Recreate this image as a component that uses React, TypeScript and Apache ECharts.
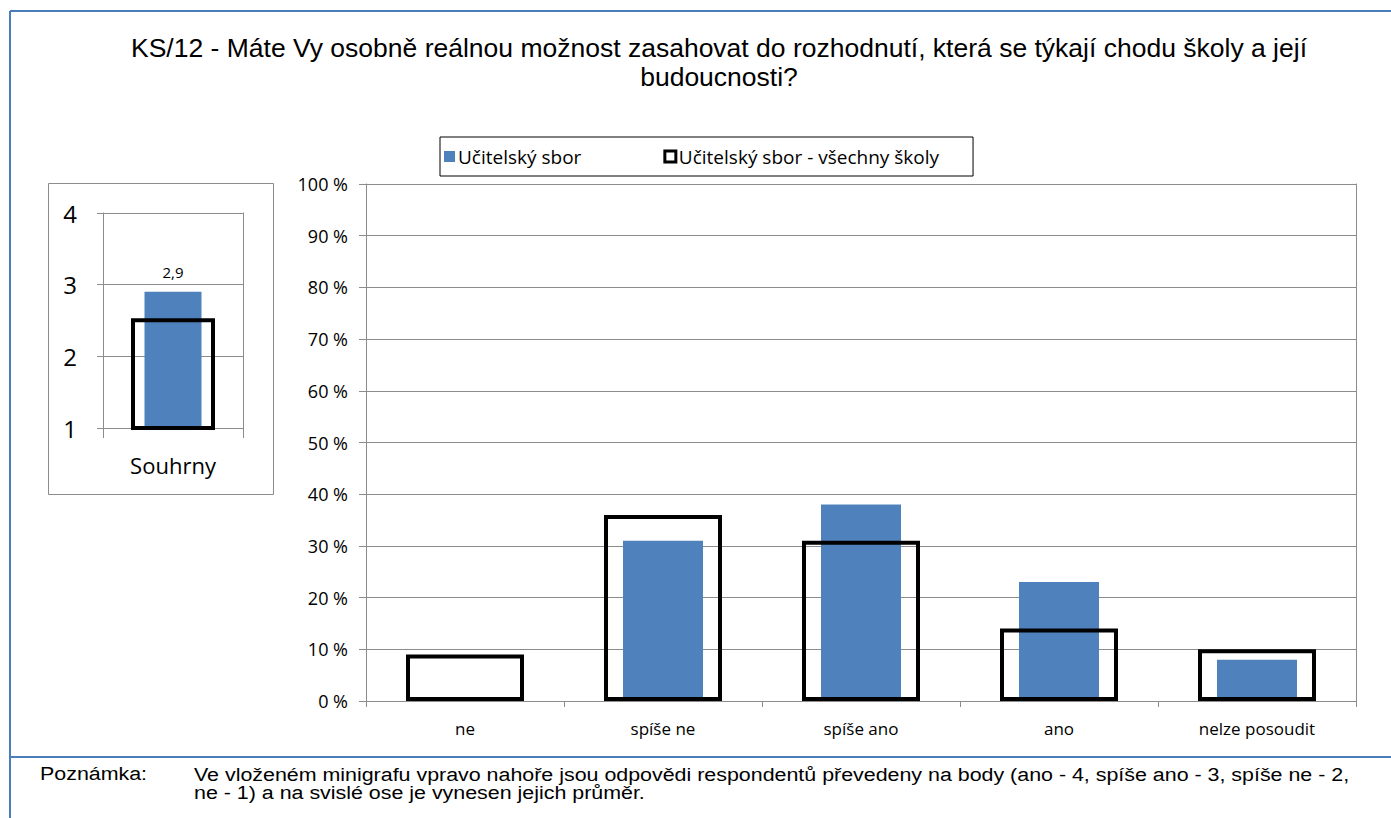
import React, { useEffect, useRef } from "react";
import * as echarts from "echarts";

const categories = ["ne", "spíše ne", "spíše ano", "ano", "nelze posoudit"];
const schoolValues = [0, 31, 38, 23, 8];
const allSchoolsValues = [9, 36, 31, 14, 10];
const summaryCategory = ["Souhrny"];
const summarySchool = [2.9];
const summaryAll = [2.53];
const seriesNames = ["Učitelský sbor", "Učitelský sbor - všechny školy"];
const titleLines = [
  "KS/12 - Máte Vy osobně reálnou možnost zasahovat do rozhodnutí, která se týkají chodu školy a její",
  "budoucnosti?",
];
const noteLabel = "Poznámka:";
const noteLines = [
  "Ve vloženém minigrafu vpravo nahoře jsou odpovědi respondentů převedeny na body (ano - 4, spíše ano - 3, spíše ne - 2,",
  "ne - 1) a na svislé ose je vynesen jejich průměr.",
];

const BLUE = "#4f81bd";
const GREY = "#8c8c8c";
const FRAME = "#4a7ebb";
const CAL = "'Open Sans', 'Noto Sans', sans-serif";
const ARIAL = "'Liberation Sans', Arial, sans-serif";

export default function App() {
  const ref = useRef<HTMLDivElement>(null);
  useEffect(() => {
    if (!ref.current) return;
    const chart = echarts.init(ref.current, null, { renderer: "svg" });
    const axisLine = { show: true, lineStyle: { color: GREY, width: 1 } };
    const option: any = {
      animation: false,
      backgroundColor: "#fff",
      legend: {
        left: 440,
        top: 137,
        padding: [10, 34, 10, 4],
        itemGap: 82,
        itemWidth: 11,
        itemHeight: 11,
        icon: "rect",
        borderColor: "#000",
        borderWidth: 1,
        textStyle: { fontFamily: CAL, fontSize: 19, color: "#000", padding: [0, 0, 0, -2] },
        data: [
          { name: seriesNames[0], itemStyle: { color: BLUE } },
          { name: seriesNames[1], itemStyle: { color: "#fff", borderColor: "#000", borderWidth: 3 } },
        ],
      },
      grid: [
        { left: 103, top: 213, width: 140, height: 215 },
        { left: 366, top: 184, width: 990, height: 517 },
      ],
      xAxis: [
        {
          gridIndex: 0,
          type: "category",
          data: summaryCategory,
          axisLine,
          axisTick: { show: true, length: 10, lineStyle: { color: GREY } },
          axisLabel: { fontFamily: CAL, fontSize: 22, color: "#000", margin: 26 },
        },
        { gridIndex: 0, type: "category", data: summaryCategory, show: false },
        {
          gridIndex: 1,
          type: "category",
          data: categories,
          axisLine,
          axisTick: { show: true, length: 6, lineStyle: { color: GREY } },
          axisLabel: { fontFamily: CAL, fontSize: 17, color: "#000", margin: 19 },
        },
        { gridIndex: 1, type: "category", data: categories, show: false },
      ],
      yAxis: [
        {
          gridIndex: 0,
          type: "value",
          min: 1,
          max: 4,
          interval: 1,
          axisLine,
          axisTick: { show: true, length: 6, lineStyle: { color: GREY } },
          axisLabel: { fontFamily: CAL, fontSize: 24, color: "#000", margin: 26 },
          splitLine: { show: true, lineStyle: { color: GREY } },
        },
        {
          gridIndex: 0,
          type: "value",
          position: "right",
          min: 1,
          max: 4,
          interval: 1,
          axisLine,
          axisTick: { show: false },
          axisLabel: { show: false },
          splitLine: { show: false },
        },
        {
          gridIndex: 1,
          type: "value",
          min: 0,
          max: 100,
          interval: 10,
          axisLine,
          axisTick: { show: true, length: 7, lineStyle: { color: GREY } },
          axisLabel: { fontFamily: CAL, fontSize: 18, color: "#000", margin: 18, formatter: "{value} %" },
          splitLine: { show: true, lineStyle: { color: GREY } },
        },
        {
          gridIndex: 1,
          type: "value",
          position: "right",
          min: 0,
          max: 100,
          interval: 10,
          axisLine,
          axisTick: { show: false },
          axisLabel: { show: false },
          splitLine: { show: false },
        },
      ],
      series: [
        {
          type: "bar",
          name: seriesNames[0],
          xAxisIndex: 0,
          yAxisIndex: 0,
          data: summarySchool,
          barWidth: 57,
          itemStyle: { color: BLUE },
          label: {
            show: true,
            position: "top",
            distance: 12,
            fontFamily: CAL,
            fontSize: 15,
            color: "#000",
            formatter: (p: any) => String(p.value).replace(".", ","),
          },
        },
        {
          type: "bar",
          name: seriesNames[1],
          xAxisIndex: 1,
          yAxisIndex: 0,
          data: summaryAll,
          barWidth: 84,
          itemStyle: { color: "rgba(0,0,0,0)", borderColor: "#000", borderWidth: 4 },
        },
        {
          type: "bar",
          name: seriesNames[0],
          xAxisIndex: 2,
          yAxisIndex: 2,
          data: schoolValues,
          barWidth: 80,
          itemStyle: { color: BLUE },
        },
        {
          type: "bar",
          name: seriesNames[1],
          xAxisIndex: 3,
          yAxisIndex: 2,
          data: allSchoolsValues,
          barWidth: 118,
          itemStyle: { color: "rgba(0,0,0,0)", borderColor: "#000", borderWidth: 4 },
        },
      ],
      graphic: [
        { type: "line", shape: { x1: 10, y1: 11, x2: 1391, y2: 11 }, style: { stroke: FRAME, lineWidth: 2 } },
        { type: "line", shape: { x1: 10, y1: 11, x2: 10, y2: 818 }, style: { stroke: FRAME, lineWidth: 2 } },
        { type: "line", shape: { x1: 10, y1: 757, x2: 1391, y2: 757 }, style: { stroke: FRAME, lineWidth: 2 } },
        { type: "rect", shape: { x: 48.5, y: 183.5, width: 225, height: 311 }, style: { fill: "none", stroke: GREY, lineWidth: 1 }, z: -1 },
        {
          type: "text",
          x: 719,
          y: 33,
          style: {
            text: titleLines.join("\n"),
            textAlign: "center",
            textVerticalAlign: "top",
            fontFamily: ARIAL,
            fontSize: 26.5,
            lineHeight: 29,
            fill: "#000",
          },
        },
        {
          type: "text",
          x: 40,
          y: 765,
          scaleX: 1.19,
          style: { text: noteLabel, fontFamily: ARIAL, fontSize: 18, fill: "#000", textVerticalAlign: "top" },
        },
        {
          type: "text",
          x: 194,
          y: 765,
          scaleX: 1.19,
          style: { text: noteLines.join("\n"), fontFamily: ARIAL, fontSize: 18, lineHeight: 18.5, fill: "#000", textVerticalAlign: "top" },
        },
      ],
    };
    chart.setOption(option);
    return () => chart.dispose();
  }, []);
  return <div ref={ref} style={{ position: "fixed", left: 0, top: 0, width: 1391, height: 818 }} />;
}
